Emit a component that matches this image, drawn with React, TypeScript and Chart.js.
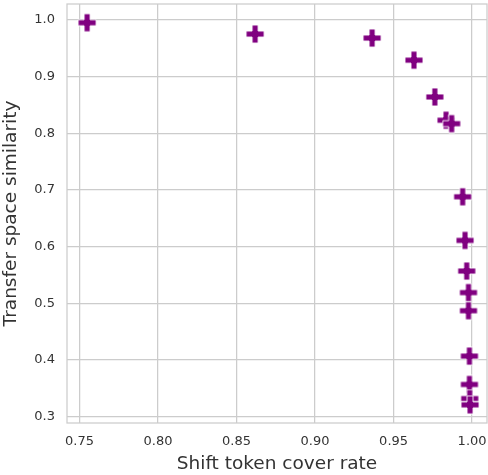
import React, { useEffect, useRef } from "react";
import { Chart, registerables } from "chart.js";

Chart.register(...registerables);

// Data (drawing order matters: partially hidden markers come first)
const coverRate = [0.7548, 0.8618, 0.9363, 0.963, 0.9763, 0.9834, 0.987, 0.994, 0.9955, 0.9966, 0.9977, 0.9977, 0.9983, 0.9983, 0.9985, 0.9987];
const similarity = [0.995, 0.975, 0.968, 0.929, 0.864, 0.823, 0.817, 0.688, 0.611, 0.557, 0.519, 0.487, 0.407, 0.357, 0.332, 0.321];
const xTickValues = [0.75, 0.8, 0.85, 0.9, 0.95, 1.0];
const yTickValues = [0.3, 0.4, 0.5, 0.6, 0.7, 0.8, 0.9, 1.0];
const xTitle = "Shift token cover rate";
const yTitle = "Transfer space similarity";

const PURPLE = "#800080";
const GRID = "#cccccc";
const TEXT = "#333333";
const FONT = "'DejaVu Sans', sans-serif";

function makePlus(): HTMLCanvasElement {
  const s = 20;
  const c = document.createElement("canvas");
  c.width = s;
  c.height = s;
  const ctx = c.getContext("2d")!;
  const m = s / 2;
  const h = 9;
  const a = h / 3;
  ctx.beginPath();
  ctx.moveTo(m - a, m - h);
  ctx.lineTo(m + a, m - h);
  ctx.lineTo(m + a, m - a);
  ctx.lineTo(m + h, m - a);
  ctx.lineTo(m + h, m + a);
  ctx.lineTo(m + a, m + a);
  ctx.lineTo(m + a, m + h);
  ctx.lineTo(m - a, m + h);
  ctx.lineTo(m - a, m + a);
  ctx.lineTo(m - h, m + a);
  ctx.lineTo(m - h, m - a);
  ctx.lineTo(m - a, m - a);
  ctx.closePath();
  ctx.fillStyle = PURPLE;
  ctx.fill();
  ctx.strokeStyle = "#ffffff";
  ctx.lineWidth = 0.9;
  ctx.stroke();
  return c;
}

const frame = {
  id: "frame",
  beforeDatasetsDraw(chart: any) {
    const { ctx, chartArea } = chart;
    ctx.save();
    ctx.strokeStyle = GRID;
    ctx.lineWidth = 1.25;
    ctx.strokeRect(chartArea.left, chartArea.top, chartArea.right - chartArea.left, chartArea.bottom - chartArea.top);
    ctx.restore();
  },
};

export default function App() {
  const ref = useRef<HTMLCanvasElement>(null);
  useEffect(() => {
    document.body.style.margin = "0";
    const plus = makePlus();
    const chart = new Chart(ref.current!, {
      type: "scatter",
      data: {
        datasets: [
          {
            data: coverRate.map((x, i) => ({ x, y: similarity[i] })),
            pointStyle: plus as any,
            pointRadius: 9,
            backgroundColor: PURPLE,
            borderColor: PURPLE,
          },
        ],
      },
      options: {
        animation: false,
        responsive: false,
        layout: { autoPadding: false, padding: { left: 0, right: 1, top: 4, bottom: 0 } },
        plugins: { legend: { display: false }, tooltip: { enabled: false } },
        scales: {
          x: {
            type: "linear",
            min: 0.742,
            max: 1.0095,
            afterBuildTicks: (s: any) => {
              s.ticks = xTickValues.map((v) => ({ value: v }));
            },
            afterFit: (s: any) => {
              s.height = 52;
              s.paddingLeft = 0;
              s.paddingRight = 0;
            },
            grid: { color: GRID, lineWidth: 1.25, drawTicks: false },
            border: { display: false },
            ticks: {
              padding: 11,
              color: TEXT,
              font: { family: FONT, size: 13 },
              callback: (v: any) => Number(v).toFixed(2),
            },
            title: {
              display: true,
              text: xTitle,
              color: TEXT,
              font: { family: FONT, size: 18.5 },
              padding: { top: 1, bottom: 0 },
            },
          },
          y: {
            type: "linear",
            min: 0.289,
            max: 1.028,
            afterBuildTicks: (s: any) => {
              s.ticks = yTickValues.map((v) => ({ value: v }));
            },
            afterFit: (s: any) => {
              s.width = 67;
              s.paddingTop = 0;
              s.paddingBottom = 0;
            },
            grid: { color: GRID, lineWidth: 1.25, drawTicks: false },
            border: { display: false },
            ticks: {
              padding: 12,
              color: TEXT,
              font: { family: FONT, size: 13 },
              callback: (v: any) => Number(v).toFixed(1),
            },
            title: {
              display: true,
              text: yTitle,
              color: TEXT,
              font: { family: FONT, size: 18.5 },
              padding: { top: 0, bottom: 4 },
            },
          },
        },
      },
      plugins: [frame],
    });
    return () => chart.destroy();
  }, []);
  return <canvas ref={ref} width={488} height={475} style={{ display: "block" }} />;
}
